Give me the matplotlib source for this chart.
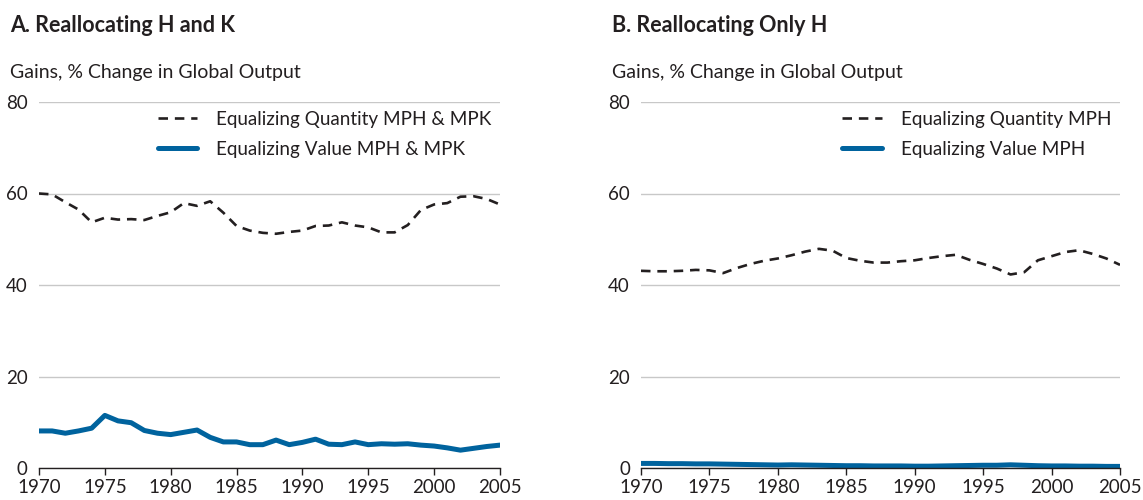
import numpy as np
import matplotlib.pyplot as plt

plt.rcParams['font.family'] = ['Lato', 'DejaVu Sans']

years = np.arange(1970, 2006)

# panel A: reallocating H and K
qty_hk = [60.0, 59.8, 58.1, 56.5, 53.7, 54.7, 54.3, 54.4, 54.2, 55.1,
          55.9, 57.9, 57.3, 58.3, 55.8, 52.9, 51.9, 51.4, 51.2, 51.6,
          51.9, 52.9, 53.0, 53.7, 53.0, 52.6, 51.5, 51.5, 53.1, 56.4,
          57.6, 57.9, 59.3, 59.4, 58.8, 57.6]
val_hk = [8.1, 8.1, 7.6, 8.1, 8.7, 11.5, 10.3, 9.9, 8.2, 7.6,
          7.3, 7.8, 8.3, 6.7, 5.7, 5.7, 5.1, 5.1, 6.1, 5.1,
          5.6, 6.3, 5.2, 5.1, 5.7, 5.1, 5.3, 5.2, 5.3, 5.0,
          4.8, 4.4, 3.9, 4.3, 4.7, 5.0]

# panel B: reallocating only H
qty_h = [43.1, 43.0, 43.0, 43.1, 43.3, 43.2, 42.6, 43.7, 44.6, 45.3,
         45.8, 46.5, 47.3, 47.9, 47.5, 45.9, 45.3, 44.9, 44.9, 45.2,
         45.4, 45.9, 46.3, 46.6, 45.5, 44.6, 43.6, 42.3, 42.8, 45.4,
         46.3, 47.2, 47.6, 46.8, 45.8, 44.4]
val_h = [1.0, 1.0, 0.95, 0.95, 0.9, 0.9, 0.85, 0.8, 0.75, 0.7,
         0.65, 0.7, 0.65, 0.6, 0.55, 0.5, 0.5, 0.45, 0.45, 0.45,
         0.4, 0.4, 0.45, 0.5, 0.55, 0.6, 0.6, 0.7, 0.6, 0.5,
         0.45, 0.45, 0.4, 0.4, 0.35, 0.35]

panels = [
    ('A. Reallocating H and K', qty_hk, val_hk,
     'Equalizing Quantity MPH & MPK', 'Equalizing Value MPH & MPK', 0.0341, 0.4374),
    ('B. Reallocating Only H', qty_h, val_h,
     'Equalizing Quantity MPH', 'Equalizing Value MPH', 0.5608, 0.9799),
]

blue = '#00639e'
txt = '#231f20'

fig = plt.figure(figsize=(11.43, 5.0), dpi=100)

for title, qty, val, lab_q, lab_v, left, right in panels:
    ax = fig.add_axes([left, 0.064, right - left, 0.732])
    ax.plot(years, qty, color=txt, lw=1.9, dashes=(3.6, 2.6), label=lab_q)
    ax.plot(years, val, color=blue, lw=3.6, solid_capstyle='round', label=lab_v)
    ax.set_xlim(1970, 2005)
    ax.set_ylim(0, 80)
    ax.set_yticks([0, 20, 40, 60, 80])
    ax.set_xticks(np.arange(1970, 2006, 5))
    ax.grid(axis='y', color='#c8c8c8', lw=1.0)
    ax.set_axisbelow(True)
    for s in ['top', 'right', 'left']:
        ax.spines[s].set_visible(False)
    ax.spines['bottom'].set_color(txt)
    ax.spines['bottom'].set_linewidth(1.0)
    ax.tick_params(axis='y', length=0, pad=8, labelsize=13.5, labelcolor=txt)
    ax.tick_params(axis='x', length=5, width=1.0, color=txt, pad=3,
                   labelsize=13.5, labelcolor=txt)
    ax.legend(loc='upper right', bbox_to_anchor=(1.0, 1.0), frameon=False,
              fontsize=13.6, handlelength=2.1, handletextpad=1.0,
              labelspacing=0.72, borderaxespad=0.05, labelcolor=txt)
    fx = left - 0.0255
    fig.text(fx, 0.948, title, fontsize=15.5, fontweight='bold', color=txt,
             ha='left', va='center')
    fig.text(fx, 0.855, 'Gains, % Change in Global Output', fontsize=14,
             color=txt, ha='left', va='center')

fig.savefig('out.png', dpi=100)
